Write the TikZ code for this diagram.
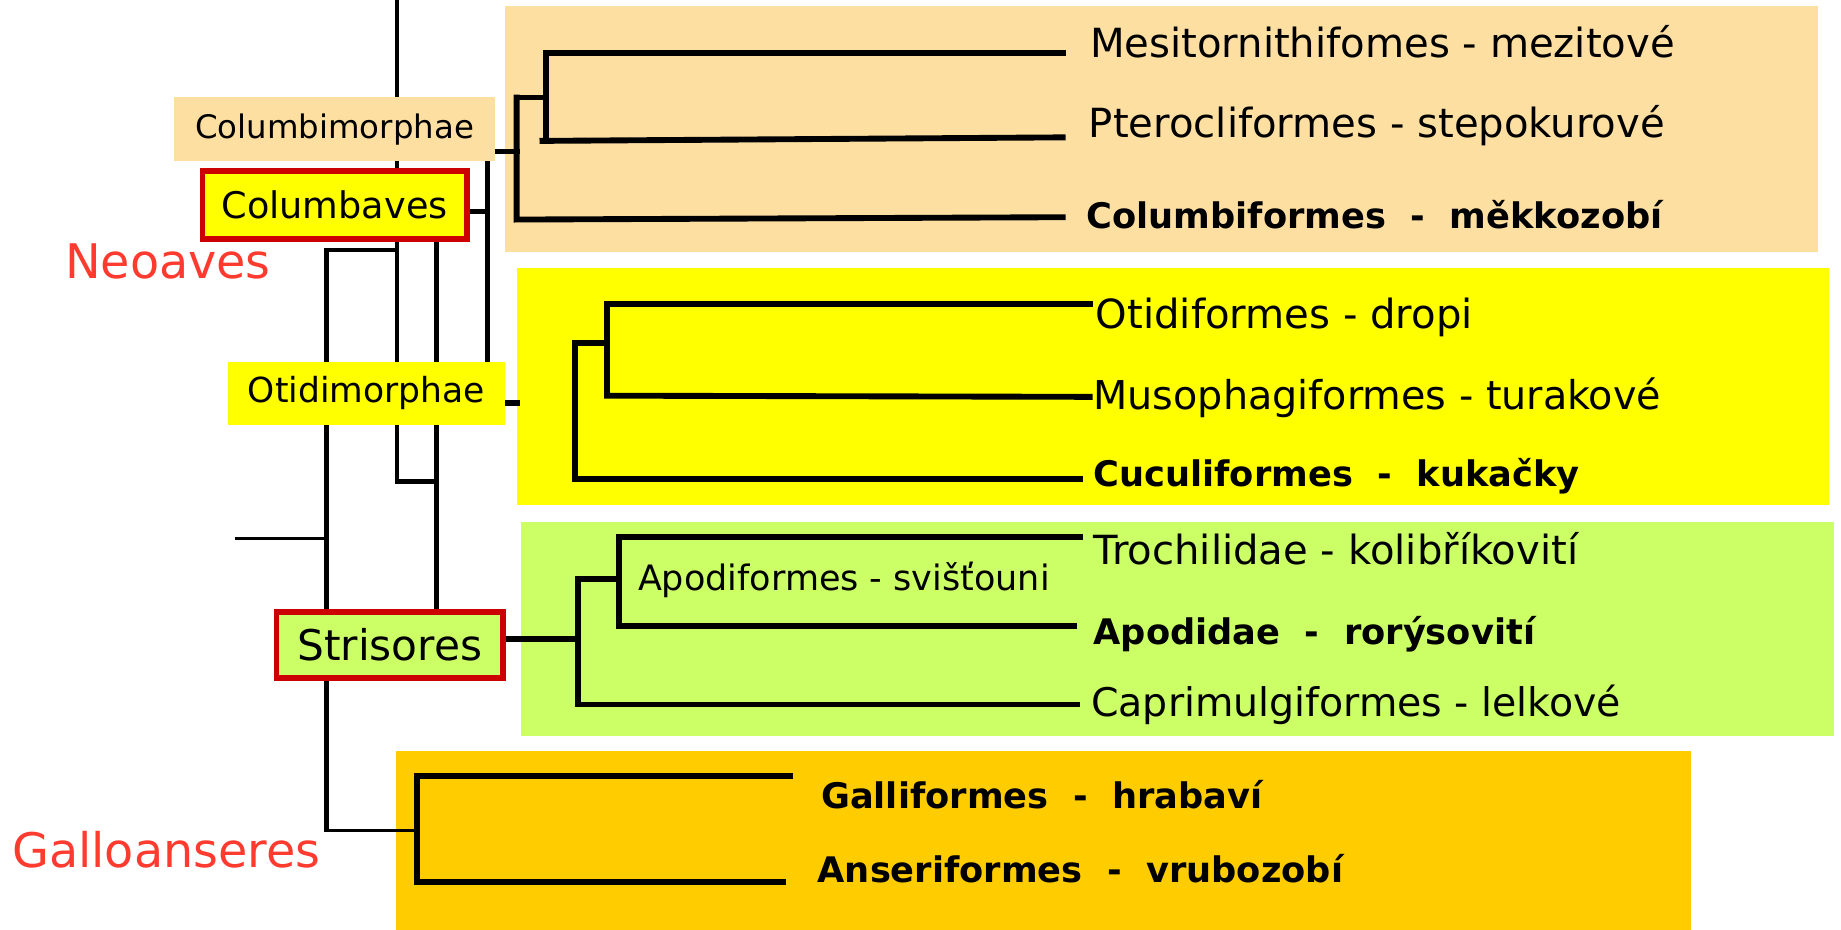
\documentclass[tikz,border=0pt]{standalone}
\usepackage{fontspec}
\setmainfont{DejaVu Sans}
\definecolor{peach}{HTML}{FDDFA2}
\definecolor{yel}{HTML}{FFFF00}
\definecolor{lgreen}{HTML}{CCFF66}
\definecolor{gold}{HTML}{FFCC00}
\definecolor{redtxt}{HTML}{FF3B30}
\definecolor{redbox}{HTML}{CC0000}
\pgfdeclarelayer{bg}
\pgfdeclarelayer{lines}
\pgfsetlayers{bg,lines,main}
\begin{document}
\begin{tikzpicture}[x=0.5pt,y=-0.5pt,
  tree/.style={line width=2.5pt, line cap=rect},
  spine/.style={line width=2pt, line cap=rect},
  thinline/.style={line width=1.3pt},
  lbl/.style={inner sep=0pt, font=\fontsize{13.8}{16}\selectfont},
  redlbl/.style={lbl, draw=redbox, line width=2.4pt},
  tip/.style={anchor=base west, inner sep=0pt, font=\fontsize{17.1}{20}\selectfont},
  tipb/.style={anchor=base west, inner sep=0pt, font=\fontsize{15}{18}\selectfont\bfseries},
  clade/.style={anchor=base west, inner sep=0pt, text=redtxt, font=\fontsize{20.3}{24}\selectfont}]
\useasboundingbox (0,0) rectangle (1568,792);
\begin{pgfonlayer}{bg}
\fill[white] (0,0) rectangle (1568,792);
\fill[peach] (430,5) rectangle (1548,215);
\fill[yel] (440,228) rectangle (1558,430);
\fill[lgreen] (444,445) rectangle (1562,627);
\fill[gold] (337,640) rectangle (1440,792);
\end{pgfonlayer}

% label boxes
\node[lbl, fill=peach, minimum width=137pt, minimum height=27pt] (colm) at (285,110) {Columbimorphae};
\node[redlbl, fill=yel, minimum width=112.6pt, minimum height=29.1pt, font=\fontsize{15.6}{18}\selectfont] (colb) at (285,174.5) {Columbaves};
\node[lbl, fill=yel, minimum width=118pt, minimum height=27pt, font=\fontsize{14.7}{17}\selectfont] (otim) at (312,335) {Otidimorphae};
\node[redlbl, fill=lgreen, minimum width=96.6pt, minimum height=28.1pt, font=\fontsize{18}{20}\selectfont] (stri) at (332,549.5) {Strisores};

% coordinates of the backbone
\coordinate (a0) at (338,0);
\coordinate (a1) at (338,410);
\coordinate (b0) at (372,207);
\coordinate (b1) at (372,519);
\coordinate (c0) at (415,137);
\coordinate (c1) at (415,308);
\coordinate (cb) at (415,180);
\coordinate (d0) at (278,213);
\coordinate (d1) at (278,707);
\coordinate (stub) at (200,459);
\coordinate (dstub) at (278,459);
% Columbimorphae subtree
\coordinate (cm) at (440,129);
\coordinate (cr0) at (440,83);
\coordinate (cr1) at (440,187);
\coordinate (ci) at (465,83);
\coordinate (ci0) at (465,45);
\coordinate (ci1) at (465,117);
\coordinate (mes) at (905,45);
\coordinate (ptl) at (462,120);
\coordinate (pte) at (905,117);
\coordinate (cole) at (905,185);
% Otidimorphae subtree
\coordinate (om) at (440,343);
\coordinate (or0) at (490,292);
\coordinate (or1) at (490,408);
\coordinate (oi) at (517,292);
\coordinate (oi0) at (517,259);
\coordinate (oi1) at (517,337);
\coordinate (ote) at (928,259);
\coordinate (mue) at (928,338);
\coordinate (cue) at (920,408);
% Strisores subtree
\coordinate (sr) at (492,544);
\coordinate (sr0) at (492,493);
\coordinate (sr1) at (492,600);
\coordinate (si) at (527,493);
\coordinate (si0) at (527,457);
\coordinate (si1) at (527,533);
\coordinate (tre) at (920,457);
\coordinate (ape) at (915,533);
\coordinate (cae) at (917,600);
% Galloanseres subtree
\coordinate (g0) at (355,661);
\coordinate (g1) at (355,751);
\coordinate (gm) at (355,707);
\coordinate (gae) at (673,661);
\coordinate (ane) at (667,751);

\begin{pgfonlayer}{lines}
\draw[spine] (a0) -- (a1) -- (b1 |- a1);
\draw[spine] (b0) -- (b1);
\draw[spine] (c0) -- (c1);
\draw[spine] (colb.east |- cb) -- (cb);
\draw[spine] (a0 |- d0) -- (d0) -- (d1);
\draw[thinline] (stub) -- (dstub);
\draw[thinline] (d1) -- (gm);
% Columbimorphae
\draw[tree] (colm.east |- cm) -- (cm);
\draw[tree] (cr0) -- (cr1) -- (cole);
\draw[tree] (cr0) -- (ci);
\draw[tree] (ci0) -- (ci1);
\draw[tree] (ci0) -- (mes);
\draw[tree] (ptl) -- (pte);
% Otidimorphae
\draw[tree] (otim.east |- om) -- (om);
\draw[tree] (or0) -- (or1) -- (cue);
\draw[tree] (or0) -- (oi);
\draw[tree] (oi0) -- (oi1) -- (mue);
\draw[tree] (oi0) -- (ote);
% Strisores
\draw[tree] (stri.east |- sr) -- (sr);
\draw[tree] (sr0) -- (sr1) -- (cae);
\draw[tree] (sr0) -- (si);
\draw[tree] (si0) -- (si1) -- (ape);
\draw[tree] (si0) -- (tre);
% Galloanseres
\draw[tree] (gae) -- (g0) -- (g1) -- (ane);
\end{pgfonlayer}

% tip labels
\node[tip] (mesT) at (928,49) {Mesitornithifomes - mezitové};
\node[tip] (pteT) at (927,117) {Pterocliformes - stepokurové};
\node[tipb] (colT) at (925,195) {Columbiformes~~-~~měkkozobí};
\node[tip] (otiT) at (933,280) {Otidiformes - dropi};
\node[tip, font=\fontsize{16.9}{20}\selectfont] (musT) at (931,349) {Musophagiformes - turakové};
\node[tipb] (cucT) at (931,414) {Cuculiformes~~-~~kukačky};
\node[tip] (troT) at (931,481) {Trochilidae - kolibříkovití};
\node[tipb] (apT) at (931,549) {Apodidae~~-~~rorýsovití};
\node[tip, font=\fontsize{16.8}{20}\selectfont] (capT) at (929,610) {Caprimulgiformes - lelkové};
\node[tipb] (galT) at (699,689) {Galliformes~~-~~hrabaví};
\node[tipb] (ansT) at (696,752) {Anseriformes~~-~~vrubozobí};
\node[tip, font=\fontsize{14.9}{17}\selectfont] (apoT) at (543,503) {Apodiformes - svišťouni};
\node[clade] (neo) at (55,237) {Neoaves};
\node[clade] (gall) at (10,739) {Galloanseres};
\end{tikzpicture}
\end{document}
